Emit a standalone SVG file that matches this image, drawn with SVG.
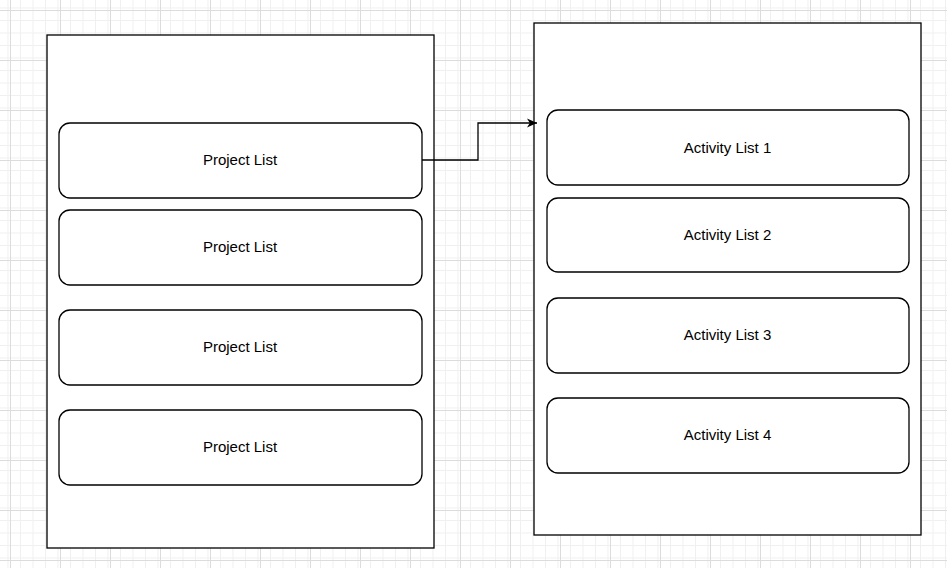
<svg xmlns="http://www.w3.org/2000/svg" width="947" height="568" viewBox="0 0 947 568">
<defs>
<pattern id="minor" width="12.5" height="12.5" patternUnits="userSpaceOnUse" x="10" y="10">
<path d="M0 0.5H12.5M0.5 0V12.5" fill="none" stroke="#f0f0f0" stroke-width="1"/>
</pattern>
<pattern id="major" width="50" height="50" patternUnits="userSpaceOnUse" x="10" y="10">
<rect width="50" height="50" fill="url(#minor)"/>
<path d="M0 0.5H50M0.5 0V50" fill="none" stroke="#dcdcdc" stroke-width="1"/>
</pattern>
<marker id="arr" markerWidth="12" markerHeight="12" refX="10" refY="6" orient="auto" markerUnits="userSpaceOnUse">
<path d="M0 1.5L10 6L0 10.5L2.8 6Z" fill="#000"/>
</marker>
<style>
.box{fill:#fff;stroke:#000;stroke-width:1.3}
.item{fill:#fff;stroke:#000;stroke-width:1.3}
.t{font-family:"Liberation Sans",Arial,sans-serif;font-size:15px;fill:#000;text-anchor:middle;dominant-baseline:central}
</style>
</defs>
<rect width="947" height="568" fill="#fff"/>
<rect width="947" height="568" fill="url(#major)"/>
<g id="left-container"><rect class="box" x="47" y="35" width="387" height="513"/></g>
<g id="right-container"><rect class="box" x="534" y="23" width="387" height="512"/></g>
<g id="project1"><rect class="item" x="59" y="123" width="363" height="75" rx="11"/><text class="t" x="240" y="159">Project List</text></g>
<g id="project2"><rect class="item" x="59" y="210" width="363" height="75" rx="11"/><text class="t" x="240" y="246">Project List</text></g>
<g id="project3"><rect class="item" x="59" y="310" width="363" height="75" rx="11"/><text class="t" x="240" y="346">Project List</text></g>
<g id="project4"><rect class="item" x="59" y="410" width="363" height="75" rx="11"/><text class="t" x="240" y="446">Project List</text></g>
<g id="activity1"><rect class="item" x="547" y="110" width="362" height="75" rx="11"/><text class="t" x="727.5" y="147">Activity List 1</text></g>
<g id="activity2"><rect class="item" x="547" y="198" width="362" height="74" rx="11"/><text class="t" x="727.5" y="234">Activity List 2</text></g>
<g id="activity3"><rect class="item" x="547" y="298" width="362" height="75" rx="11"/><text class="t" x="727.5" y="334">Activity List 3</text></g>
<g id="activity4"><rect class="item" x="547" y="398" width="362" height="75" rx="11"/><text class="t" x="727.5" y="434">Activity List 4</text></g>
<g id="connectors">
<path d="M422 160H478V123H537" fill="none" stroke="#000" stroke-width="1.3" marker-end="url(#arr)"/>
</g>
</svg>
